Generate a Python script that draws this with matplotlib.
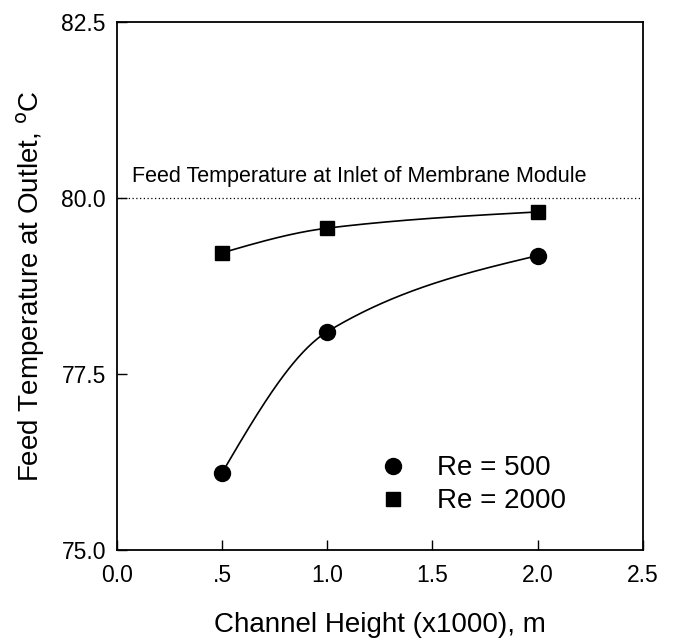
import numpy as np
import matplotlib
matplotlib.use('Agg')
import matplotlib.pyplot as plt
from matplotlib.lines import Line2D

# data
height = [0.5, 1.0, 2.0]
temp_re500 = [76.1, 78.1, 79.18]
temp_re2000 = [79.22, 79.57, 79.8]
inlet_temp = 80.0
xticks = [0.0, 0.5, 1.0, 1.5, 2.0, 2.5]
xtick_labels = ['0.0', '.5', '1.0', '1.5', '2.0', '2.5']
yticks = [75.0, 77.5, 80.0, 82.5]
ytick_labels = ['75.0', '77.5', '80.0', '82.5']

plt.rcParams['font.family'] = ['Liberation Sans', 'DejaVu Sans']


# hermite curve through the points, only used to draw the smooth line
def smooth(x, y, xs):
  x = np.asarray(x, float)
  y = np.asarray(y, float)
  h = np.diff(x)
  d = np.diff(y) / h
  m = np.zeros_like(y)
  for k in range(1, len(x) - 1):
    if d[k-1] * d[k] > 0:
      w1 = 2*h[k] + h[k-1]
      w2 = h[k] + 2*h[k-1]
      m[k] = (w1 + w2) / (w1/d[k-1] + w2/d[k])
  # free ends
  m[0] = (3*d[0] - m[1]) / 2
  m[-1] = (3*d[-1] - m[-2]) / 2
  out = np.empty_like(xs)
  for i, xv in enumerate(xs):
    k = min(max(np.searchsorted(x, xv) - 1, 0), len(x) - 2)
    t = (xv - x[k]) / h[k]
    h00 = 2*t**3 - 3*t**2 + 1
    h10 = t**3 - 2*t**2 + t
    h01 = -2*t**3 + 3*t**2
    h11 = t**3 - t**2
    out[i] = h00*y[k] + h10*h[k]*m[k] + h01*y[k+1] + h11*h[k]*m[k+1]
  return out


fig = plt.figure(figsize=(6.73, 6.41), dpi=100)
ax = fig.add_axes([0.174, 0.142, 0.781, 0.824])

xs = np.linspace(height[0], height[-1], 200)
ax.plot(xs, smooth(height, temp_re500, xs), color='black', lw=1.2)
ax.plot(xs, smooth(height, temp_re2000, xs), color='black', lw=1.2)
ax.plot(height, temp_re500, 'o', color='black', ms=11.5)
ax.plot(height, temp_re2000, 's', color='black', ms=10)

# inlet temperature reference
ax.axhline(inlet_temp, color='black', lw=0.9, ls=(0, (1, 2)))
ax.text(0.071, 80.3, 'Feed Temperature at Inlet of Membrane Module',
        fontsize=15.5, ha='left', va='center')

ax.set_xlim(0, 2.5)
ax.set_ylim(75, 82.5)
ax.set_xticks(xticks)
ax.set_xticklabels(xtick_labels)
ax.set_yticks(yticks)
ax.set_yticklabels(ytick_labels)
ax.tick_params(direction='in', length=7, width=1, labelsize=16.5, pad=10)
ax.tick_params(axis='y', pad=8)
for s in ax.spines.values():
  s.set_linewidth(1.3)

ax.set_xlabel('Channel Height (x1000), m', fontsize=20, labelpad=18)
ax.set_ylabel(r'Feed Temperature at Outlet, $^{\rm o}$C', fontsize=20, labelpad=10)

handles = [Line2D([], [], marker='o', ls='none', color='black', ms=11.5),
           Line2D([], [], marker='s', ls='none', color='black', ms=10)]
ax.legend(handles, ['Re = 500', 'Re = 2000'], frameon=False, fontsize=20,
          loc='lower left', bbox_to_anchor=(0.45, 0.02), handletextpad=1.1,
          labelspacing=0.25, handlelength=1.0)

fig.savefig('out.png', dpi=100)
